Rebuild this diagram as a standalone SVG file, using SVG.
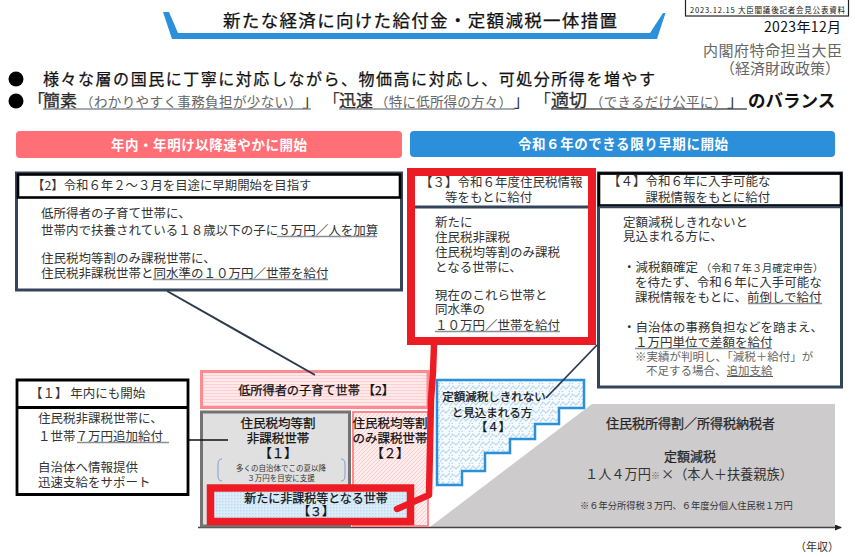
<svg xmlns="http://www.w3.org/2000/svg" width="860" height="557" viewBox="0 0 860 557">
<style>
text{font-family:"Noto Sans CJK JP","Noto Sans",sans-serif;fill:#333;font-size:12.5px}
.c{text-anchor:middle}
.d{fill:#111}
.g{fill:#666}
.m{stroke:#111;stroke-width:.25px}
.w{fill:#fff;font-weight:700;font-size:13.5px}
.u{fill:none;stroke:#8a8f96;stroke-width:1.4}
.k{fill:none;stroke:#000;stroke-width:2.6}
.n{fill:none;stroke:#34455a;stroke-width:3}
</style>
<defs>
<pattern id="hs" width="4" height="3" patternUnits="userSpaceOnUse"><rect width="4" height="3" fill="#ffe9ea"/><rect width="4" height="1" fill="#ffd0d2"/></pattern>
<pattern id="ds" width="4" height="4" patternUnits="userSpaceOnUse"><rect width="4" height="4" fill="#ffeced"/><path d="M-1 1L1 -1M0 4L4 0M3 5L5 3" stroke="#ffc4c7" stroke-width=".8"/></pattern>
<pattern id="dot" width="3" height="3" patternUnits="userSpaceOnUse"><rect width="3" height="3" fill="#dcedf9"/><rect width="1.4" height="1.4" fill="#b8d9f1"/></pattern>
<pattern id="wv" width="10" height="8" patternUnits="userSpaceOnUse"><rect width="10" height="8" fill="#f7fbfe"/><path d="M0 6L3 2L6 5L10 1M-1 10L3 7M8 9L11 6" fill="none" stroke="#b5d8f2" stroke-width="1.1"/></pattern>
<marker id="ar" markerWidth="8" markerHeight="8" refX="6" refY="3" orient="auto" markerUnits="userSpaceOnUse"><path d="M0 0L7 3L0 6Z" fill="#222"/></marker>
</defs>

<g id="title">
<path d="M163 12H169L178 33H650L663 13H665.500L657 39H172Z" fill="#2b90d9"/>
<text x="223" y="27" font-size="17.500" style="font-size:17.500px" class="d m" textLength="394">新たな経済に向けた給付金・定額減税一体措置</text>
</g>
<g id="stamp">
<rect x="685.500" y="-1" width="163" height="17" fill="#fff" stroke="#222" stroke-width="1.200"/>
<text x="690" y="13" class="d" style="font-size:7.500px" textLength="155">2023.12.15 大臣閣議後記者会見公表資料</text>
</g>
<g id="date">
<text x="764" y="32" class="d" style="font-size:14px" textLength="77">2023年12月</text>
<text x="703" y="56" class="g" style="font-size:15px" textLength="139">内閣府特命担当大臣</text>
<text x="720" y="74" class="g" style="font-size:15px" textLength="120">（経済財政政策）</text>
</g>
<g id="summary">
<circle cx="16" cy="79" r="7.500" fill="#000"/>
<circle cx="16" cy="101" r="7.500" fill="#000"/>
<text x="43" y="85" class="d m" style="font-size:16px" textLength="612">様々な層の国民に丁寧に対応しながら、物価高に対応し、可処分所得を増やす</text>
<text x="28" y="107" class="m" style="font-size:17px">「</text>
<text x="43" y="107" class="m" style="font-size:17px">簡素</text>
<text x="80" y="107" class="g" style="font-size:13.500px" textLength="222">（わかりやすく事務負担が少ない）</text>
<text x="302" y="107" style="font-size:17px">」</text>
<text x="323" y="107" style="font-size:17px">「</text>
<text x="339" y="107" class="m" style="font-size:17px">迅速</text>
<text x="375" y="107" class="g" style="font-size:13.500px" textLength="137">（特に低所得の方々）</text>
<text x="513" y="107" style="font-size:17px">」</text>
<text x="534" y="107" style="font-size:17px">「</text>
<text x="551" y="107" class="m" style="font-size:18px">適切</text>
<text x="590" y="107" class="g" style="font-size:13.500px" textLength="137">（できるだけ公平に）</text>
<text x="727" y="107" style="font-size:17px">」</text>
<text x="748" y="107" class="d" style="font-size:17.500px;font-weight:700">のバランス</text>
<path class="u" d="M43 109H311M339 109H515"/>
<path d="M551 109H747" fill="none" stroke="#555" stroke-width="1.400"/>
</g>
<g id="band-red">
<rect x="16" y="131" width="386" height="27" rx="4" fill="#ff6f75"/>
<text x="209" y="150" class="w c" textLength="196">年内・年明け以降速やかに開始</text>
</g>
<g id="band-blue">
<rect x="410" y="131" width="425" height="26" rx="4" fill="#2b90d9"/>
<text x="623" y="149" class="w c" textLength="210">令和６年のできる限り早期に開始</text>
</g>

<g id="income-chart">
<polygon points="430,527 592,404 835,404 835,527" fill="#cdcbcb"/>
<text x="606" y="428" class="m" style="font-size:13px">住民税所得割／所得税納税者</text>
<text x="690" y="461" class="c m" style="font-size:13px">定額減税</text>
<text x="585" y="479" style="font-size:13.200px">１人４万円</text>
<text x="651" y="479" class="g" style="font-size:9px">※</text>
<text x="661" y="479" style="font-size:13.200px">×（本人＋扶養親族）</text>
<text x="580" y="509" style="font-size:9.250px">※６年分所得税３万円、６年度分個人住民税１万円</text>
<path d="M198 527.500H841" fill="none" stroke="#444" stroke-width="1.500" marker-end="url(#ar)"/>
<text x="795" y="551" style="font-size:11px">（年収）</text>
</g>

<g id="low-income-band">
<rect x="201.500" y="371.500" width="226.500" height="36" fill="url(#hs)" stroke="#ff8a8f" stroke-width="3"/>
<text x="316" y="395" class="c d m" style="font-size:12.200px">低所得者の子育て世帯 【2】</text>
</g>
<g id="gray-box">
<rect x="201.500" y="412" width="148" height="114" fill="#e0e0e0" stroke="#737373" stroke-width="3"/>
<text x="278" y="428" class="c d m">住民税均等割</text>
<text x="278" y="443" class="c d m">非課税世帯</text>
<text x="278" y="458" class="c d m">【１】</text>
<path d="M222 459Q218 459 218 464V476Q218 481 222 481M341 459Q345 459 345 464V476Q345 481 341 481" fill="none" stroke="#7f9fd0" stroke-width="1"/>
<text x="281" y="471" class="c" style="font-size:7.500px">多くの自治体でこの夏以降</text>
<text x="281" y="481" class="c" style="font-size:7.500px">３万円を目安に支援</text>
</g>
<g id="pink-box">
<rect x="353" y="412" width="75" height="114" fill="url(#ds)" stroke="#ff8a8f" stroke-width="2"/>
<text x="390" y="428" class="c d m">住民税均等割</text>
<text x="390" y="443" class="c d m">のみ課税世帯</text>
<text x="390" y="458" class="c d m">【２】</text>
</g>
<g id="new-households">
<rect x="210.500" y="488" width="200" height="33.500" fill="url(#dot)" stroke="#ed1c24" stroke-width="7.500"/>
<text x="316" y="503" class="c d m" style="font-size:12px">新たに非課税等となる世帯</text>
<text x="316" y="516" class="c d m" style="font-size:12px">【３】</text>
</g>

<g id="steps">
<path d="M437 380H584V408H559V424H535V439H510V453H485V471H462V485H437Z" fill="url(#wv)" stroke="#2b90d9" stroke-width="2.500"/>
<text x="494" y="401" class="c d m" style="font-size:11.500px">定額減税しきれない</text>
<text x="492" y="417" class="c d m" style="font-size:11.500px">と見込まれる方</text>
<text x="493" y="431" class="c d m" style="font-size:11.500px">【４】</text>
</g>

<g id="connectors">
<path d="M189 440H228" fill="none" stroke="#111" stroke-width="1.500"/>
<path d="M167 291L315 375" fill="none" stroke="#2b3a4c" stroke-width="2"/>
<path d="M434 345L433 372L431 400L429 495L397 509" fill="none" stroke="#ed1c24" stroke-width="6.500" stroke-linecap="round" stroke-linejoin="round"/>
<path d="M597 345L546 398" fill="none" stroke="#2b3a4c" stroke-width="1.800"/>
</g>

<g id="box-1">
<rect x="17" y="380" width="172" height="114.500" fill="#fff"/>
<path class="k" d="M17 380H188V494.500H17ZM17 407.500H188" style="stroke-width:2.800"/>
<text x="30" y="398">【１】 年内にも開始</text>
<text x="38" y="423">住民税非課税世帯に、</text>
<text x="38" y="441">１世帯７万円追加給付</text>
<path class="u" d="M77 442.500H169"/>
<text x="38" y="472">自治体へ情報提供</text>
<text x="38" y="487">迅速支給をサポート</text>
</g>

<g id="box-2">
<rect x="16.500" y="173" width="385" height="117" fill="#fff" stroke="#34455a" stroke-width="3"/>
<rect x="18" y="174.500" width="382" height="23" class="k"/>
<text x="32" y="190" style="font-size:12.400px">【2】令和６年２～３月を目途に早期開始を目指す</text>
<text x="41" y="218">低所得者の子育て世帯に、</text>
<text x="41" y="235">世帯内で扶養されている１８歳以下の子に５万円／人を加算</text>
<path class="u" d="M277 236.500H377"/>
<text x="41" y="263">住民税均等割のみ課税世帯に、</text>
<text x="41" y="278">住民税非課税世帯と同水準の１０万円／世帯を給付</text>
<path class="u" d="M153 279.500H328"/>
</g>

<g id="box-3">
<rect x="411" y="172" width="181" height="169" fill="#fff" stroke="#ed1c24" stroke-width="8"/>
<path d="M415 207H588" stroke="#34455a" stroke-width="3"/>
<text x="420" y="187">【３】令和６年度住民税情報</text>
<text x="445" y="202">等をもとに給付</text>
<text x="435" y="227">新たに</text>
<text x="435" y="242">住民税非課税</text>
<text x="435" y="257">住民税均等割のみ課税</text>
<text x="435" y="272">となる世帯に、</text>
<text x="435" y="300">現在のこれら世帯と</text>
<text x="435" y="314">同水準の</text>
<text x="435" y="330">１０万円／世帯を給付</text>
<path class="u" d="M435 331.500H560"/>
</g>

<g id="box-4">
<rect x="598.500" y="173" width="243" height="214" fill="#fff" stroke="#34455a" stroke-width="3"/>
<rect x="599" y="173.500" width="242" height="32" class="k"/>
<path d="M599 207H841" stroke="#34455a" stroke-width="2.500"/>
<text x="608" y="186">【４】</text>
<text x="645.500" y="186">令和６年に入手可能な</text>
<text x="645.500" y="202">課税情報をもとに給付</text>
<text x="623" y="227">定額減税しきれないと</text>
<text x="623" y="241">見込まれる方に、</text>
<text x="623" y="272">・減税額確定</text>
<text x="701" y="272" style="font-size:10.200px">（令和７年３月確定申告）</text>
<text x="635" y="287">を待たず、令和６年に入手可能な</text>
<text x="635" y="302">課税情報をもとに、前倒しで給付</text>
<path class="u" d="M748 303.500H822"/>
<text x="623" y="332">・自治体の事務負担などを踏まえ、</text>
<text x="635" y="347">１万円単位で差額を給付</text>
<path class="u" d="M635 348.500H772"/>
<text x="635" y="361" class="g" style="font-size:11.500px">※実績が判明し、「減税＋給付」が</text>
<text x="646" y="375" class="g" style="font-size:11.500px">不足する場合、追加支給</text>
<path d="M727 376.500H773" fill="none" stroke="#555" stroke-width="1.200"/>
</g>
</svg>
